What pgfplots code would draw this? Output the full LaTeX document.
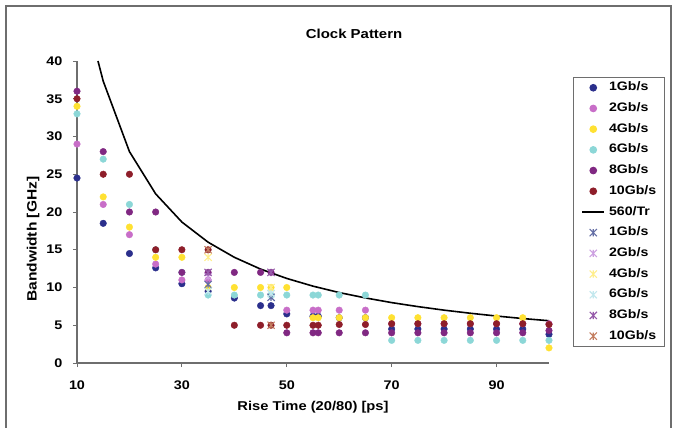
\documentclass[border=0pt]{standalone}
\usepackage{fontspec}
\setmainfont{Liberation Sans}[FakeStretch=1.15]
\usepackage{pgfplots}
\pgfplotsset{compat=1.18}
\definecolor{c1}{RGB}{43,47,140}
\definecolor{c2}{RGB}{200,110,200}
\definecolor{c4}{RGB}{255,225,50}
\definecolor{c6}{RGB}{140,215,215}
\definecolor{c8}{RGB}{128,40,130}
\definecolor{c10}{RGB}{142,30,42}
\definecolor{s1}{RGB}{100,110,165}
\definecolor{s2}{RGB}{205,160,225}
\definecolor{s4}{RGB}{255,238,140}
\definecolor{s6}{RGB}{195,232,238}
\definecolor{s8}{RGB}{150,90,170}
\definecolor{s10}{RGB}{195,125,95}
\definecolor{axgray}{RGB}{110,110,110}
\newcommand{\fs}[1]{\fontsize{#1bp}{#1bp}\selectfont\bfseries}
\pgfdeclareplotmark{xstar}{%
  \pgfpathmoveto{\pgfqpoint{-\pgfplotmarksize}{-\pgfplotmarksize}}%
  \pgfpathlineto{\pgfqpoint{\pgfplotmarksize}{\pgfplotmarksize}}%
  \pgfpathmoveto{\pgfqpoint{-\pgfplotmarksize}{\pgfplotmarksize}}%
  \pgfpathlineto{\pgfqpoint{\pgfplotmarksize}{-\pgfplotmarksize}}%
  \pgfpathmoveto{\pgfqpoint{0pt}{-\pgfplotmarksize}}%
  \pgfpathlineto{\pgfqpoint{0pt}{\pgfplotmarksize}}%
  \pgfusepathqstroke}
\pgfplotsset{
  dot/.style={only marks, mark=*, mark size=3.3bp, color=#1, mark options={draw=none, fill=#1}},
  star/.style={only marks, mark=xstar, mark size=3.6bp, color=#1, mark options={line width=1.1bp}},
}
\begin{document}
\begin{tikzpicture}
\path[use as bounding box] (0,0) rectangle (677bp,-428bp);
\draw[axgray,line width=1.5bp] (6bp,-440bp) -- (6bp,-6bp) -- (671bp,-6bp) -- (671bp,-440bp);
\begin{axis}[
  at={(77bp,-363bp)}, anchor=south west,
  scale only axis, width=472bp, height=302bp,
  xmin=10, xmax=100, ymin=0, ymax=40,
  clip=false,
  axis x line*=bottom, axis y line*=left,
  axis line style={-, axgray, line width=1.2bp},
  xtick={10,30,50,70,90}, ytick={0,5,...,40},
  tick align=outside, major tick length=4bp,
  tick style={axgray, line width=1bp},
  /pgf/number format/assume math mode=true,
  ticklabel style={font=\fs{12.5}},
  xticklabel style={anchor=north, yshift=-10bp},
  yticklabel style={anchor=east, xshift=-7bp},
  every axis title shift=0pt,
  title={Clock Pattern},
  title style={at={(axis description cs:0.587,1.089)}, anchor=center, font=\fs{13}},
  xlabel={Rise Time (20/80) [ps]},
  xlabel style={at={(axis description cs:0.5,-0.146)}, anchor=center, font=\fs{12.8}},
  ylabel={Bandwidth [GHz]},
  ylabel style={at={(axis description cs:-0.093,0.41)}, anchor=center, font=\fs{13.5}},
  legend style={at={(axis description cs:1.0508,0.947)}, anchor=north west,
    draw=axgray, line width=1bp, fill=white, font=\fs{12.3},
    inner xsep=8bp, inner ysep=4.5bp, row sep=9.2bp,
    nodes={inner sep=0pt, text height=8.8bp, text depth=2.7bp},
    /tikz/every odd column/.append style={column sep=4bp}},
  legend cell align=left,
  legend image code/.code={\draw[mark repeat=2,mark phase=2,#1] plot coordinates {(0bp,0bp) (11bp,0bp) (22bp,0bp)};},
]
% 1 Gb/s
\addplot[dot=c1] coordinates {(10,24.5)(15,18.5)(20,14.5)(25,12.6)(30,10.5)(35,9.5)(40,8.6)(45,7.6)(47,7.6)(50,6.5)(55,6.2)(56,6.2)(60,6)(65,6)(70,4.5)(75,4.5)(80,4.5)(85,4.5)(90,4.5)(95,4.5)(100,3.8)};
\addlegendentry{1Gb/s}
% 2 Gb/s
\addplot[dot=c2] coordinates {(10,29)(15,21)(20,17)(25,13.1)(30,11)(35,11)(50,7)(55,7)(56,7)(60,7)(65,7)(70,5.2)(75,5.2)(80,5.2)(85,5.2)(90,5.2)(95,5.2)(100,5.2)};
\addlegendentry{2Gb/s}
% 4 Gb/s
\addplot[dot=c4] coordinates {(10,34)(15,22)(20,18)(25,14)(30,14)(35,10)(40,10)(45,10)(47,10)(50,10)(55,6)(56,6)(60,6)(65,6)(70,6)(75,6)(80,6)(85,6)(90,6)(95,6)(100,2)};
\addlegendentry{4Gb/s}
% 6 Gb/s
\addplot[dot=c6] coordinates {(10,33)(15,27)(20,21)(25,15)(30,12)(35,9)(40,9)(45,9)(47,9)(50,9)(55,9)(56,9)(60,9)(65,9)(70,3)(75,3)(80,3)(85,3)(90,3)(95,3)(100,3)};
\addlegendentry{6Gb/s}
% 8 Gb/s
\addplot[dot=c8] coordinates {(10,36)(15,28)(20,20)(25,20)(30,12)(35,12)(40,12)(45,12)(47,12)(50,4)(55,4)(56,4)(60,4)(65,4)(70,4)(75,4)(80,4)(85,4)(90,4)(95,4)(100,4.3)};
\addlegendentry{8Gb/s}
% 10 Gb/s
\addplot[dot=c10] coordinates {(10,35)(15,25)(20,25)(25,15)(30,15)(35,15)(40,5)(45,5)(47,5)(50,5)(55,5)(56,5)(60,5.1)(65,5.1)(70,5.2)(75,5.2)(80,5.2)(85,5.2)(90,5.2)(95,5.2)(100,5.1)};
\addlegendentry{10Gb/s}
% 560/Tr
\addplot[black, line width=1.6bp, mark=none] coordinates {(14,40)(15,37.33)(20,28)(25,22.4)(30,18.67)(35,16)(40,14)(45,12.44)(50,11.2)(55,10.18)(60,9.33)(65,8.62)(70,8)(75,7.47)(80,7)(85,6.59)(90,6.22)(95,5.89)(100,5.6)};
\addlegendentry{560/Tr}
% stars
\addplot[star=s1] coordinates {(35,10.4)(47,8.7)};
\addlegendentry{1Gb/s}
\addplot[star=s2] coordinates {(35,11.4)};
\addlegendentry{2Gb/s}
\addplot[star=s4] coordinates {(35,14)(47,10)};
\addlegendentry{4Gb/s}
\addplot[star=s6] coordinates {(35,9.5)(47,9.2)};
\addlegendentry{6Gb/s}
\addplot[star=s8] coordinates {(35,12)(47,12)};
\addlegendentry{8Gb/s}
\addplot[star=s10] coordinates {(35,15)(47,5)};
\addlegendentry{10Gb/s}
\end{axis}
\end{tikzpicture}
\end{document}
